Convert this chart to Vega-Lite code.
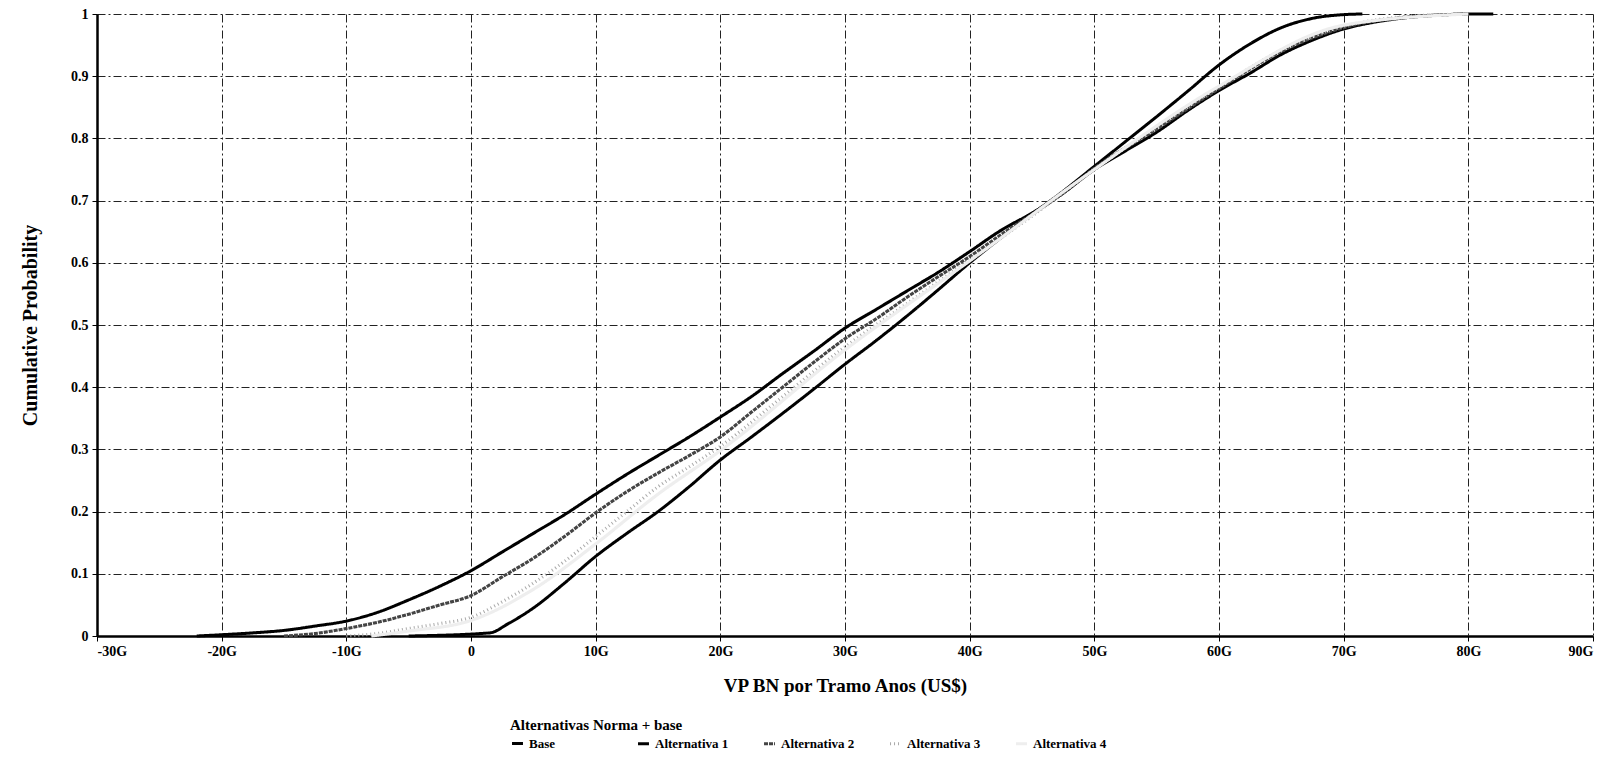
{
  "$schema": "https://vega.github.io/schema/vega-lite/v6.json",
  "width": 1496,
  "height": 622,
  "autosize": {"type": "none"},
  "padding": {"left": 97, "top": 14, "right": 19, "bottom": 122},
  "background": "white",
  "config": {
    "view": {"stroke": null},
    "font": "Liberation Serif",
    "axis": {
      "labelFont": "Liberation Serif",
      "labelFontWeight": "bold",
      "labelFontSize": 14,
      "labelColor": "black",
      "titleFont": "Liberation Serif",
      "titleFontWeight": "bold",
      "titleColor": "black",
      "gridColor": "#222",
      "gridDash": [8, 3, 2, 3],
      "gridWidth": 1,
      "gridOpacity": 1,
      "domainColor": "black",
      "domainWidth": 2.5,
      "tickColor": "black",
      "tickSize": 5
    },
    "legend": {
      "titleFont": "Liberation Serif",
      "labelFont": "Liberation Serif",
      "titleFontWeight": "bold",
      "labelFontWeight": "bold",
      "titleFontSize": 15,
      "labelFontSize": 13,
      "titleColor": "black",
      "labelColor": "black"
    }
  },
  "data": {
    "values": [
      {"x": -22, "p": 0.0, "s": "Alternativa 1"},
      {"x": -20, "p": 0.002, "s": "Alternativa 1"},
      {"x": -17.5, "p": 0.005, "s": "Alternativa 1"},
      {"x": -15, "p": 0.009, "s": "Alternativa 1"},
      {"x": -12.5, "p": 0.016, "s": "Alternativa 1"},
      {"x": -10, "p": 0.024, "s": "Alternativa 1"},
      {"x": -7.5, "p": 0.038, "s": "Alternativa 1"},
      {"x": -5, "p": 0.058, "s": "Alternativa 1"},
      {"x": -2.5, "p": 0.08, "s": "Alternativa 1"},
      {"x": 0, "p": 0.105, "s": "Alternativa 1"},
      {"x": 2.5, "p": 0.135, "s": "Alternativa 1"},
      {"x": 5, "p": 0.165, "s": "Alternativa 1"},
      {"x": 7.5, "p": 0.195, "s": "Alternativa 1"},
      {"x": 10, "p": 0.228, "s": "Alternativa 1"},
      {"x": 12.5, "p": 0.26, "s": "Alternativa 1"},
      {"x": 15, "p": 0.29, "s": "Alternativa 1"},
      {"x": 17.5, "p": 0.32, "s": "Alternativa 1"},
      {"x": 20, "p": 0.352, "s": "Alternativa 1"},
      {"x": 22.5, "p": 0.385, "s": "Alternativa 1"},
      {"x": 25, "p": 0.422, "s": "Alternativa 1"},
      {"x": 27.5, "p": 0.458, "s": "Alternativa 1"},
      {"x": 30, "p": 0.495, "s": "Alternativa 1"},
      {"x": 32.5, "p": 0.525, "s": "Alternativa 1"},
      {"x": 35, "p": 0.555, "s": "Alternativa 1"},
      {"x": 37.5, "p": 0.585, "s": "Alternativa 1"},
      {"x": 40, "p": 0.618, "s": "Alternativa 1"},
      {"x": 42.5, "p": 0.652, "s": "Alternativa 1"},
      {"x": 45, "p": 0.68, "s": "Alternativa 1"},
      {"x": 47.5, "p": 0.712, "s": "Alternativa 1"},
      {"x": 50, "p": 0.75, "s": "Alternativa 1"},
      {"x": 52.5, "p": 0.78, "s": "Alternativa 1"},
      {"x": 55, "p": 0.81, "s": "Alternativa 1"},
      {"x": 57.5, "p": 0.845, "s": "Alternativa 1"},
      {"x": 60, "p": 0.877, "s": "Alternativa 1"},
      {"x": 62.5, "p": 0.905, "s": "Alternativa 1"},
      {"x": 65, "p": 0.935, "s": "Alternativa 1"},
      {"x": 67.5, "p": 0.958, "s": "Alternativa 1"},
      {"x": 70, "p": 0.976, "s": "Alternativa 1"},
      {"x": 72.5, "p": 0.987, "s": "Alternativa 1"},
      {"x": 75, "p": 0.994, "s": "Alternativa 1"},
      {"x": 77.5, "p": 0.998, "s": "Alternativa 1"},
      {"x": 80, "p": 1.0, "s": "Alternativa 1"},
      {"x": 82, "p": 1.0, "s": "Alternativa 1"},

      {"x": -5, "p": 0.0, "s": "Base"},
      {"x": 1.5, "p": 0.005, "s": "Base"},
      {"x": 3, "p": 0.02, "s": "Base"},
      {"x": 5, "p": 0.045, "s": "Base"},
      {"x": 7.5, "p": 0.085, "s": "Base"},
      {"x": 10, "p": 0.128, "s": "Base"},
      {"x": 12.5, "p": 0.165, "s": "Base"},
      {"x": 15, "p": 0.2, "s": "Base"},
      {"x": 17.5, "p": 0.24, "s": "Base"},
      {"x": 20, "p": 0.283, "s": "Base"},
      {"x": 22.5, "p": 0.32, "s": "Base"},
      {"x": 25, "p": 0.358, "s": "Base"},
      {"x": 27.5, "p": 0.397, "s": "Base"},
      {"x": 30, "p": 0.437, "s": "Base"},
      {"x": 32.5, "p": 0.475, "s": "Base"},
      {"x": 35, "p": 0.515, "s": "Base"},
      {"x": 37.5, "p": 0.557, "s": "Base"},
      {"x": 40, "p": 0.6, "s": "Base"},
      {"x": 42.5, "p": 0.64, "s": "Base"},
      {"x": 45, "p": 0.678, "s": "Base"},
      {"x": 47.5, "p": 0.715, "s": "Base"},
      {"x": 50, "p": 0.755, "s": "Base"},
      {"x": 52.5, "p": 0.795, "s": "Base"},
      {"x": 55, "p": 0.835, "s": "Base"},
      {"x": 57.5, "p": 0.876, "s": "Base"},
      {"x": 60, "p": 0.918, "s": "Base"},
      {"x": 62.5, "p": 0.952, "s": "Base"},
      {"x": 65, "p": 0.978, "s": "Base"},
      {"x": 67.5, "p": 0.993, "s": "Base"},
      {"x": 70, "p": 0.999, "s": "Base"},
      {"x": 71.5, "p": 1.0, "s": "Base"},

      {"x": -15, "p": 0.0, "s": "Alternativa 2"},
      {"x": -12.5, "p": 0.004, "s": "Alternativa 2"},
      {"x": -10, "p": 0.012, "s": "Alternativa 2"},
      {"x": -7.5, "p": 0.022, "s": "Alternativa 2"},
      {"x": -5, "p": 0.035, "s": "Alternativa 2"},
      {"x": -2.5, "p": 0.05, "s": "Alternativa 2"},
      {"x": 0, "p": 0.065, "s": "Alternativa 2"},
      {"x": 2.5, "p": 0.095, "s": "Alternativa 2"},
      {"x": 5, "p": 0.125, "s": "Alternativa 2"},
      {"x": 7.5, "p": 0.16, "s": "Alternativa 2"},
      {"x": 10, "p": 0.198, "s": "Alternativa 2"},
      {"x": 12.5, "p": 0.232, "s": "Alternativa 2"},
      {"x": 15, "p": 0.262, "s": "Alternativa 2"},
      {"x": 17.5, "p": 0.29, "s": "Alternativa 2"},
      {"x": 20, "p": 0.32, "s": "Alternativa 2"},
      {"x": 22.5, "p": 0.36, "s": "Alternativa 2"},
      {"x": 25, "p": 0.4, "s": "Alternativa 2"},
      {"x": 27.5, "p": 0.44, "s": "Alternativa 2"},
      {"x": 30, "p": 0.478, "s": "Alternativa 2"},
      {"x": 32.5, "p": 0.51, "s": "Alternativa 2"},
      {"x": 35, "p": 0.545, "s": "Alternativa 2"},
      {"x": 37.5, "p": 0.578, "s": "Alternativa 2"},
      {"x": 40, "p": 0.61, "s": "Alternativa 2"},
      {"x": 42.5, "p": 0.645, "s": "Alternativa 2"},
      {"x": 45, "p": 0.678, "s": "Alternativa 2"},
      {"x": 47.5, "p": 0.712, "s": "Alternativa 2"},
      {"x": 50, "p": 0.752, "s": "Alternativa 2"},
      {"x": 55, "p": 0.815, "s": "Alternativa 2"},
      {"x": 60, "p": 0.88, "s": "Alternativa 2"},
      {"x": 65, "p": 0.94, "s": "Alternativa 2"},
      {"x": 70, "p": 0.978, "s": "Alternativa 2"},
      {"x": 75, "p": 0.995, "s": "Alternativa 2"},
      {"x": 80, "p": 1.0, "s": "Alternativa 2"},

      {"x": -10, "p": 0.0, "s": "Alternativa 3"},
      {"x": -7.5, "p": 0.004, "s": "Alternativa 3"},
      {"x": -5, "p": 0.012, "s": "Alternativa 3"},
      {"x": -2.5, "p": 0.02, "s": "Alternativa 3"},
      {"x": 0, "p": 0.03, "s": "Alternativa 3"},
      {"x": 2.5, "p": 0.055, "s": "Alternativa 3"},
      {"x": 5, "p": 0.085, "s": "Alternativa 3"},
      {"x": 7.5, "p": 0.12, "s": "Alternativa 3"},
      {"x": 10, "p": 0.16, "s": "Alternativa 3"},
      {"x": 12.5, "p": 0.2, "s": "Alternativa 3"},
      {"x": 15, "p": 0.24, "s": "Alternativa 3"},
      {"x": 17.5, "p": 0.272, "s": "Alternativa 3"},
      {"x": 20, "p": 0.305, "s": "Alternativa 3"},
      {"x": 25, "p": 0.385, "s": "Alternativa 3"},
      {"x": 30, "p": 0.465, "s": "Alternativa 3"},
      {"x": 35, "p": 0.535, "s": "Alternativa 3"},
      {"x": 40, "p": 0.605, "s": "Alternativa 3"},
      {"x": 45, "p": 0.675, "s": "Alternativa 3"},
      {"x": 50, "p": 0.75, "s": "Alternativa 3"},
      {"x": 55, "p": 0.818, "s": "Alternativa 3"},
      {"x": 60, "p": 0.882, "s": "Alternativa 3"},
      {"x": 65, "p": 0.942, "s": "Alternativa 3"},
      {"x": 70, "p": 0.98, "s": "Alternativa 3"},
      {"x": 75, "p": 0.996, "s": "Alternativa 3"},
      {"x": 80, "p": 1.0, "s": "Alternativa 3"},

      {"x": -8, "p": 0.0, "s": "Alternativa 4"},
      {"x": -5, "p": 0.008, "s": "Alternativa 4"},
      {"x": 0, "p": 0.025, "s": "Alternativa 4"},
      {"x": 5, "p": 0.075, "s": "Alternativa 4"},
      {"x": 10, "p": 0.148, "s": "Alternativa 4"},
      {"x": 15, "p": 0.228, "s": "Alternativa 4"},
      {"x": 20, "p": 0.298, "s": "Alternativa 4"},
      {"x": 30, "p": 0.46, "s": "Alternativa 4"},
      {"x": 40, "p": 0.603, "s": "Alternativa 4"},
      {"x": 50, "p": 0.75, "s": "Alternativa 4"},
      {"x": 60, "p": 0.884, "s": "Alternativa 4"},
      {"x": 70, "p": 0.982, "s": "Alternativa 4"},
      {"x": 80, "p": 1.0, "s": "Alternativa 4"}
    ]
  },
  "mark": {"type": "line", "interpolate": "monotone"},
  "encoding": {
    "x": {
      "field": "x",
      "type": "quantitative",
      "scale": {"domain": [-30, 90], "nice": false, "zero": false},
      "axis": {
        "values": [-30, -20, -10, 0, 10, 20, 30, 40, 50, 60, 70, 80, 90],
        "labelExpr": "datum.value == 0 ? '0' : datum.value + 'G'",
        "title": "VP BN por Tramo Anos (US$)",
        "titleFontSize": 19,
        "titlePadding": 18,
        "labelPadding": 3
      }
    },
    "y": {
      "field": "p",
      "type": "quantitative",
      "scale": {"domain": [0, 1], "nice": false},
      "axis": {
        "values": [0, 0.1, 0.2, 0.3, 0.4, 0.5, 0.6, 0.7, 0.8, 0.9, 1],
        "labelExpr": "datum.value == 0 ? '0' : datum.value == 1 ? '1' : format(datum.value, '.1f')",
        "title": "Cumulative Probability",
        "titleFontSize": 20,
        "titlePadding": 30,
        "labelPadding": 4
      }
    },
    "color": {
      "field": "s",
      "type": "nominal",
      "scale": {
        "domain": ["Base", "Alternativa 1", "Alternativa 2", "Alternativa 3", "Alternativa 4"],
        "range": ["#000000", "#000000", "#444444", "#aaaaaa", "#eeeeee"]
      },
      "legend": {
        "title": "Alternativas Norma + base",
        "orient": "none",
        "direction": "horizontal",
        "columns": 5,
        "gridAlign": "all",
        "columnPadding": 28,
        "legendX": 413,
        "legendY": 704,
        "symbolType": "stroke",
        "symbolSize": 120,
        "symbolStrokeWidth": 2,
        "titlePadding": 3
      }
    },
    "strokeDash": {
      "field": "s",
      "type": "nominal",
      "scale": {
        "domain": ["Base", "Alternativa 1", "Alternativa 2", "Alternativa 3", "Alternativa 4"],
        "range": [[1, 0], [1, 0], [4, 1], [1, 3], [1, 0]]
      },
      "legend": null
    },
    "strokeWidth": {
      "field": "s",
      "type": "nominal",
      "scale": {
        "domain": ["Base", "Alternativa 1", "Alternativa 2", "Alternativa 3", "Alternativa 4"],
        "range": [3, 3.2, 2.6, 1.5, 1]
      },
      "legend": null
    }
  }
}
